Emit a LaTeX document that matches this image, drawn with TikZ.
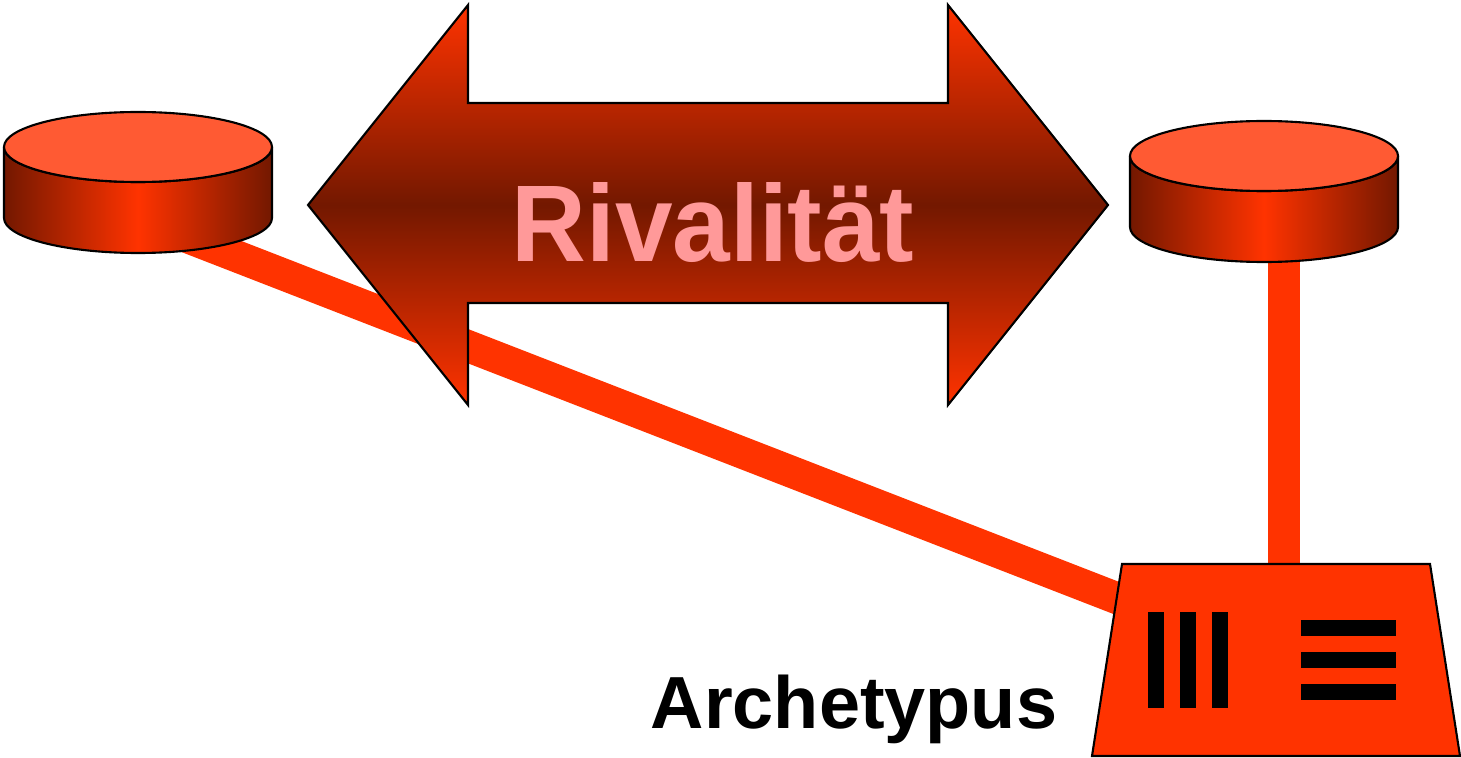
\documentclass[tikz,border=0pt]{standalone}
\usepackage{fontspec}
\setmainfont{Liberation Sans}
\usetikzlibrary{backgrounds, calc}
\definecolor{rivRed}{HTML}{FF3300}
\definecolor{rivLid}{HTML}{FF5A33}
\definecolor{rivDark}{HTML}{731800}
\definecolor{rivPink}{HTML}{FF9999}

\begin{document}
\begin{tikzpicture}[x=0.01cm, y=0.01cm,
    outline/.style={draw=black, line width=0.6pt},
    wire/.style={rivRed, line width=0.32cm}]
    \useasboundingbox (0,0) rectangle (1461,757);

    % Archetypus
    \coordinate (arche) at (1276,97);
    \draw[outline, fill=rivRed] (arche) ++(-184,-96) -- ++(368,0) -- ++(-30,192)
      -- ++(-308,0) -- cycle;
    \foreach \dx in {-120,-88,-56}
      \fill (arche) ++({\dx-8},-48) rectangle ++(16,96);
    \foreach \dy in {32,0,-32}
      \fill (arche) ++(25,{\dy-8}) rectangle ++(95,16);
    \node[font=\bfseries\fontsize{21}{21}\selectfont, anchor=base] (archname)
      at (854,29) {Archetypus};

    % Zylinder
    \foreach \cx/\cy/\nm in {138/539/l, 1264/530/r} {
      \coordinate (\nm base) at (\cx,\cy);
      \coordinate (\nm lid) at (\cx,\cy+71);
      \draw[outline, left color=rivDark, right color=rivDark, middle color=rivRed]
        ($(\nm base)+(-134,0)$) arc[start angle=180, end angle=360, x radius=134, y radius=35]
        -- ++(0,71) arc[start angle=0, end angle=-180, x radius=134, y radius=35] -- cycle;
      \draw[outline, fill=rivLid] (\nm lid) ellipse[x radius=134, y radius=35];
    }

    % Verbindungen
    \coordinate (rjoint) at ($(rbase)+(20,0)$);
    \begin{scope}[on background layer]
      \draw[wire] (lbase) -- (arche);
      \draw[wire] (rjoint) -- (rjoint |- arche);
    \end{scope}

    % Doppelpfeil
    \draw[outline, top color=rivRed, bottom color=rivRed, middle color=rivDark]
      (308,552) -- (468,752) -- (468,654) -- (948,654) -- (948,752) -- (1108,552)
      -- (948,352) -- (948,454) -- (468,454) -- (468,352) -- cycle;
    \node[text=rivPink, font=\bfseries\fontsize{31}{31}\selectfont, anchor=base,
      xscale=0.95, transform shape] (rival) at (713,495) {Rivalität};
\end{tikzpicture}
\end{document}
